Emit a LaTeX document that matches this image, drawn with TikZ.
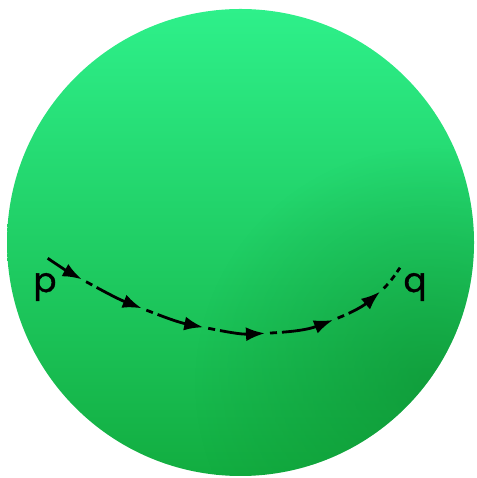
\documentclass[tikz,border=0pt]{standalone}
\usepackage{fontspec}
\setmainfont{Poppins}
\newfontfamily\lblfont[FakeBold=1.2]{Poppins}
\usetikzlibrary{arrows.meta,fadings}
\definecolor{gtop}{HTML}{2EF08A}
\definecolor{gbot}{HTML}{12AD40}
\definecolor{gdark}{HTML}{0A842A}
\tikzfading[name=darkfade, inner color=transparent!0, outer color=transparent!100]
\begin{document}
\begin{tikzpicture}[x=1pt,y=1pt,
  seg/.style={line width=2.8pt, -{Latex[length=19pt,width=14pt]}},
  gapped/.style={seg, dash pattern=on 0pt off 5pt on 7pt off 5pt on 400pt off 0pt},
  tailseg/.style={line width=2.8pt, dash pattern=on 0pt off 5pt on 6pt off 5pt on 6pt off 4pt on 20pt},
  lbl/.style={font=\lblfont\fontsize{34}{40}\selectfont, anchor=base, inner sep=0pt}]
\useasboundingbox (0,0) rectangle (476,478);
% sphere
\shade[top color=gtop, bottom color=gbot] (240.5,235.5) circle (233.5);
\begin{scope}
  \clip (240.5,235.5) circle (233.5);
  \fill[gdark, fill opacity=0.5, path fading=darkfade] (430,95) circle (235);
\end{scope}
% path points
\coordinate (s)  at (47.7,219.7);
\coordinate (a1) at (81.7,198.7);
\coordinate (a2) at (141.7,169.7);
\coordinate (a3) at (203.3,150.7);
\coordinate (a4) at (265,144.7);
\coordinate (a5) at (333,158);
\coordinate (a6) at (380,186.3);
\coordinate (e)  at (400,210.3);
\draw[seg]    (s)  to[out=-34,  in=151.3] (a1);
\draw[gapped] (a1) to[out=-28.7,in=158.5] (a2);
\draw[gapped] (a2) to[out=-21.5,in=168.7] (a3);
\draw[gapped] (a3) to[out=-11.3,in=182.7] (a4);
\draw[gapped] (a4) to[out=2.7,  in=201.1] (a5);
\draw[gapped] (a5) to[out=21.1, in=220.6] (a6);
\draw[tailseg] (a6) to[out=40.6, in=235] (e);
% labels
\node[lbl] (p) at (45,186) {p};
\node[lbl] (q) at (415,186) {q};
\end{tikzpicture}
\end{document}
